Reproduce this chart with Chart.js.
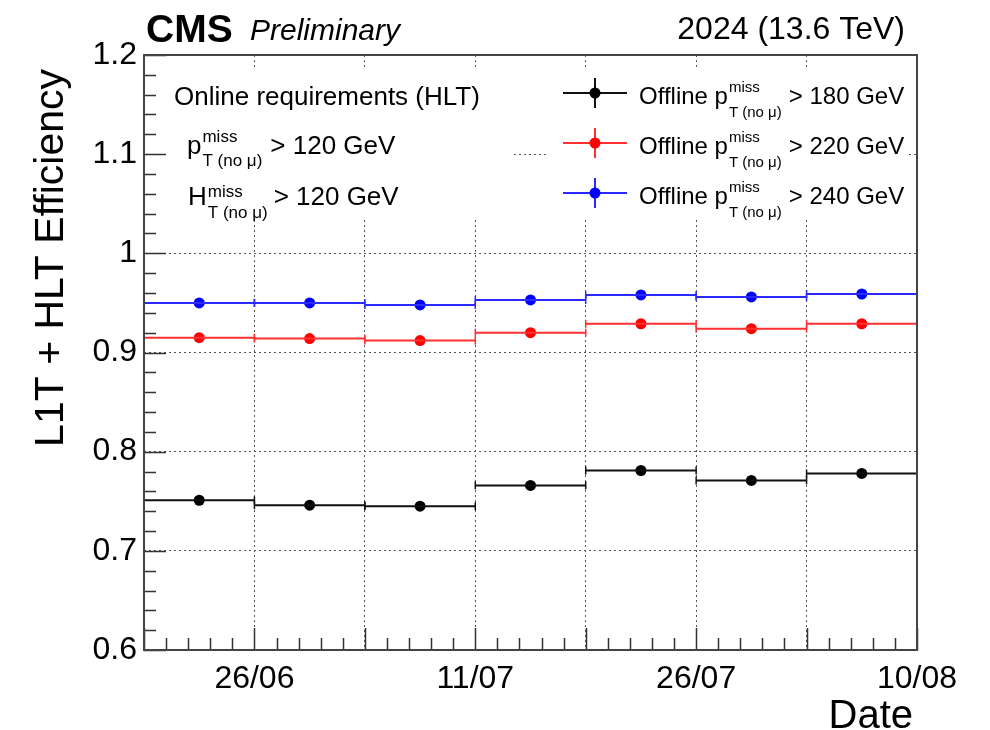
<!DOCTYPE html>
<html>
<head>
<meta charset="utf-8">
<script src="https://cdn.jsdelivr.net/npm/chart.js@4.4.1/dist/chart.umd.min.js"></script>
<style>
  html, body { margin: 0; padding: 0; background: #fff; }
  #wrap { width: 990px; height: 730px; }
</style>
</head>
<body>
<div id="wrap"><canvas id="eff-chart" width="990" height="730"></canvas></div>
<script>
// week bins (bin edges on the x axis, labels every second edge)
const binIndex = [0, 1, 2, 3, 4, 5, 6];
const xTickLabels = ['', '26/06', '', '11/07', '', '26/07', '', '10/08'];
const yTickValues = [0.6, 0.7, 0.8, 0.9, 1.0, 1.1, 1.2];
const yTickLabels = ['0.6', '0.7', '0.8', '0.9', '1', '1.1', '1.2'];

// efficiency per bin for each offline threshold
const effMet180 = [0.751, 0.746, 0.745, 0.766, 0.781, 0.771, 0.778];
const effMet220 = [0.915, 0.914, 0.912, 0.920, 0.929, 0.924, 0.929];
const effMet240 = [0.950, 0.950, 0.948, 0.953, 0.958, 0.956, 0.959];

const seriesNames = ['180', '220', '240'];
const FONT = '"Liberation Sans", Arial, Helvetica, sans-serif';

const series = [
  { vals: effMet180, color: '#000000', line: '#111111' },
  { vals: effMet220, color: '#ff0000', line: '#ff3030' },
  { vals: effMet240, color: '#0000ff', line: '#2a2aff' }
];

// horizontal bars spanning each bin, with end caps
function binSegments(vals) {
  const pts = [];
  binIndex.forEach(function(i) {
    pts.push({ x: i, y: vals[i] });
    pts.push({ x: i + 1, y: vals[i] });
    pts.push({ x: i + 1, y: null });
  });
  return pts;
}

const datasets = [];
series.forEach(function(s) {
  datasets.push({
    data: binSegments(s.vals),
    showLine: true,
    spanGaps: false,
    borderColor: s.line,
    borderWidth: 2,
    pointStyle: 'line',
    pointRotation: 90,
    pointRadius: 4,
    pointBorderWidth: 1.5,
    pointBorderColor: s.line,
    pointHoverRadius: 0
  });
  datasets.push({
    data: binIndex.map(i => ({ x: i + 0.5, y: s.vals[i] })),
    showLine: false,
    pointStyle: 'circle',
    pointRadius: 5.5,
    pointBackgroundColor: s.color,
    pointBorderColor: s.color,
    pointBorderWidth: 0
  });
});

// text with superscript / subscript, ROOT TLatex style
function latex(ctx, x, y, pre, base, sup, sub, rest, size, supDy, subDy, gap) {
  ctx.font = size + 'px ' + FONT;
  ctx.fillText(pre + base, x, y);
  let w = ctx.measureText(pre + base).width;
  const small = Math.round(size * 0.64);
  ctx.font = small + 'px ' + FONT;
  ctx.fillText(sup, x + w + 1, y - supDy);
  ctx.fillText(sub, x + w + 1, y + subDy);
  const ws = Math.max(ctx.measureText(sup).width, ctx.measureText(sub).width);
  ctx.font = size + 'px ' + FONT;
  ctx.fillText(rest, x + w + ws + gap, y);
}

const boxesPlugin = {
  id: 'boxes',
  beforeDatasetsDraw(chart) {
    const ctx = chart.ctx;
    const y = chart.scales.y;
    ctx.save();
    ctx.fillStyle = '#fff';
    const top = y.getPixelForValue(1.188), bot = y.getPixelForValue(1.036);
    ctx.fillRect(chart.chartArea.left + 2, top, 512 - chart.chartArea.left, bot - top);
    ctx.fillRect(548, top, 907 - 548, bot - top);
    ctx.restore();
  }
};

const decorPlugin = {
  id: 'decor',
  afterDraw(chart) {
    const ctx = chart.ctx;
    const a = chart.chartArea;
    const xs = chart.scales.x, ys = chart.scales.y;
    ctx.save();

    // inner ticks
    ctx.strokeStyle = '#333';
    ctx.lineWidth = 1.5;
    ctx.beginPath();
    for (let k = 0; k <= 30; k++) {
      const v = 0.6 + k * 0.02;
      const py = Math.round(ys.getPixelForValue(v)) + 0.5;
      const len = (k % 5 === 0) ? 22 : 12;
      ctx.moveTo(a.left, py); ctx.lineTo(a.left + len, py);
    }
    for (let k = 0; k <= 35; k++) {
      const px = Math.round(xs.getPixelForValue(k * 0.2)) + 0.5;
      const len = (k % 5 === 0) ? 22 : 12;
      ctx.moveTo(px, a.bottom); ctx.lineTo(px, a.bottom - len);
    }
    ctx.stroke();

    // frame
    ctx.strokeStyle = '#444';
    ctx.lineWidth = 2;
    ctx.strokeRect(a.left, a.top, a.right - a.left, a.bottom - a.top);

    ctx.fillStyle = '#000';
    ctx.textBaseline = 'alphabetic';

    // header
    ctx.textAlign = 'left';
    ctx.font = 'bold 39px ' + FONT;
    ctx.fillText('CMS', 146, 42);
    ctx.font = 'italic 30px ' + FONT;
    ctx.fillText('Preliminary', 250, 40);
    ctx.textAlign = 'right';
    ctx.font = '32px ' + FONT;
    ctx.fillText('2024 (13.6 TeV)', 905, 39);

    // axis titles
    ctx.font = '40px ' + FONT;
    ctx.fillText('Date', 913, 728);
    ctx.save();
    ctx.font = '41px ' + FONT;
    ctx.translate(63, a.top + 14);
    ctx.rotate(-Math.PI / 2);
    ctx.textAlign = 'right';
    ctx.fillText('L1T + HLT Efficiency', 0, 0);
    ctx.restore();

    // left text box
    ctx.textAlign = 'left';
    ctx.font = '26px ' + FONT;
    ctx.fillText('Online requirements (HLT)', 174, 105);
    latex(ctx, 187, 154, '', 'p', 'miss', 'T (no \u03bc)', '> 120 GeV', 26, 12, 12, 9);
    latex(ctx, 188, 205, '', 'H', 'miss', 'T (no \u03bc)', '> 120 GeV', 26, 8, 13, 7);

    // right legend
    const rows = [93, 143, 193];
    series.forEach(function(s, i) {
      const ry = rows[i];
      ctx.strokeStyle = s.line;
      ctx.lineWidth = 2;
      ctx.beginPath();
      ctx.moveTo(563, ry); ctx.lineTo(627, ry);
      ctx.moveTo(595, ry - 15); ctx.lineTo(595, ry + 15);
      ctx.stroke();
      ctx.fillStyle = s.color;
      ctx.beginPath();
      ctx.arc(595, ry, 5.5, 0, Math.PI * 2);
      ctx.fill();
      ctx.fillStyle = '#000';
      latex(ctx, 639, ry + 11, 'Offline ', 'p', 'miss', 'T (no \u03bc)', '> ' + seriesNames[i] + ' GeV', 24, 12, 13, 8);
    });
    ctx.restore();
  }
};

new Chart(document.getElementById('eff-chart'), {
  type: 'scatter',
  data: { datasets: datasets },
  options: {
    responsive: false,
    animation: false,
    events: [],
    layout: { padding: { left: 0, top: 55, right: 73, bottom: 0 } },
    plugins: { legend: { display: false }, tooltip: { enabled: false } },
    scales: {
      x: {
        type: 'linear',
        min: 0,
        max: 7,
        afterFit(scale) { scale.height = 80; },
        afterBuildTicks(scale) { scale.ticks = xTickLabels.map((l, i) => ({ value: i })); },
        border: { display: false, dash: [2, 3] },
        grid: {
          drawTicks: false,
          color: ctx => (ctx.tick && ctx.tick.value > 0 && ctx.tick.value < 7) ? '#555' : 'rgba(0,0,0,0)',
          lineWidth: 1
        },
        ticks: {
          autoSkip: false,
          maxRotation: 0,
          padding: 10,
          color: '#000',
          font: { family: FONT, size: 32 },
          callback: (v) => xTickLabels[Math.round(v)]
        }
      },
      y: {
        min: 0.6,
        max: 1.2,
        afterFit(scale) { scale.width = 144; },
        afterBuildTicks(scale) { scale.ticks = yTickValues.map(v => ({ value: v })); },
        border: { display: false, dash: [2, 3] },
        grid: {
          drawTicks: false,
          color: ctx => (ctx.tick && ctx.tick.value > 0.61 && ctx.tick.value < 1.19) ? '#555' : 'rgba(0,0,0,0)',
          lineWidth: 1
        },
        ticks: {
          padding: 7,
          color: '#000',
          font: { family: FONT, size: 32 },
          callback: (v) => {
            const i = yTickValues.findIndex(t => Math.abs(t - v) < 1e-6);
            return i >= 0 ? yTickLabels[i] : '';
          }
        }
      }
    }
  },
  plugins: [boxesPlugin, decorPlugin]
});
</script>
</body>
</html>
